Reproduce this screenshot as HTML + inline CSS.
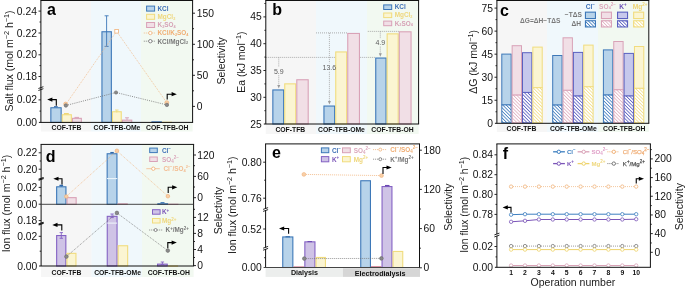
<!DOCTYPE html>
<html><head><meta charset="utf-8"><style>
html,body{margin:0;padding:0;background:#fff;}
body{width:685px;height:288px;overflow:hidden;}
svg{display:block;will-change:transform;font-family:"Liberation Sans", sans-serif;}
</style></head><body>
<svg width="685" height="288" viewBox="0 0 685 288">
<rect x="40.9" y="0.5" width="50.1" height="131" fill="#f6f6f6" stroke="none" stroke-width="1" />
<rect x="91" y="0.5" width="50" height="131" fill="#f0f8fc" stroke="none" stroke-width="1" />
<rect x="141" y="0.5" width="51.6" height="131" fill="#f2f9f1" stroke="none" stroke-width="1" />
<rect x="50.85" y="107.75" width="10.3" height="14.65" fill="#b7d3ea" stroke="#3d78b8" stroke-width="1.1" />
<rect x="62.25" y="114.75" width="9.1" height="7.65" fill="#fbf5d2" stroke="#f1dc7e" stroke-width="1.1" />
<rect x="72.45" y="118.35" width="8.9" height="4.05" fill="#f1dfe6" stroke="#d9a2b7" stroke-width="1.1" />
<line x1="54" y1="106.7" x2="57.7" y2="106.7" stroke="#3a70b0" stroke-width="1.2" />
<line x1="64" y1="113.7" x2="68.8" y2="113.7" stroke="#eed46a" stroke-width="1.2" />
<line x1="74.5" y1="117.4" x2="79" y2="117.4" stroke="#d9a2b7" stroke-width="1" />
<line x1="106.6" y1="15.8" x2="106.6" y2="46.4" stroke="#3d78b8" stroke-width="0.9" />
<line x1="104.6" y1="15.8" x2="108.6" y2="15.8" stroke="#3d78b8" stroke-width="0.9" />
<line x1="104.6" y1="46.4" x2="108.6" y2="46.4" stroke="#3d78b8" stroke-width="0.9" />
<rect x="101.95" y="31.75" width="9.4" height="90.65" fill="#b7d3ea" stroke="#3d78b8" stroke-width="1.1" />
<line x1="106.6" y1="31.2" x2="106.6" y2="46.4" stroke="#3d78b8" stroke-width="0.9" />
<line x1="104.6" y1="46.4" x2="108.6" y2="46.4" stroke="#3d78b8" stroke-width="0.9" />
<rect x="112.45" y="111.75" width="8.8" height="10.65" fill="#fbf5d2" stroke="#f1dc7e" stroke-width="1.1" />
<line x1="116.8" y1="110" x2="116.8" y2="112.5" stroke="#f1dc7e" stroke-width="0.9" />
<line x1="115" y1="110" x2="118.6" y2="110" stroke="#f1dc7e" stroke-width="0.9" />
<rect x="122.35" y="120.15" width="9.4" height="2.25" fill="#f1dfe6" stroke="#d9a2b7" stroke-width="1.1" />
<line x1="127" y1="117.8" x2="127" y2="120" stroke="#d9a2b7" stroke-width="0.9" />
<line x1="125" y1="117.8" x2="129" y2="117.8" stroke="#d9a2b7" stroke-width="0.9" />
<rect x="151.95" y="121.85" width="9.4" height="0.55" fill="#b7d3ea" stroke="#3d78b8" stroke-width="1.1" />
<rect x="162.45" y="122.25" width="9" height="0.2" fill="#fbf5d2" stroke="#f1dc7e" stroke-width="1.1" />
<polyline points="65.8,104.4 116.6,31.3 166.7,102.6" fill="none" stroke="#f0b27a" stroke-width="0.7" stroke-dasharray="1,1"/>
<polyline points="65.9,105.5 116,92.5 166.9,104.9" fill="none" stroke="#6e6e6e" stroke-width="0.8" stroke-dasharray="1,1.2"/>
<circle cx="65.6" cy="104" r="1.9" fill="#f8cfa8" stroke="#f0b27a" stroke-width="0.7"/>
<circle cx="65.9" cy="105.5" r="1.7" fill="#8a8a8a" stroke="#6e6e6e" stroke-width="0.7"/>
<rect x="114.8" y="29.5" width="3.6" height="3.6" fill="#fff" stroke="#f0b27a" stroke-width="0.8" />
<circle cx="116" cy="92.5" r="1.6" fill="#8a8a8a" stroke="#6e6e6e" stroke-width="0.7"/>
<circle cx="166.8" cy="102.6" r="1.9" fill="#f8cfa8" stroke="#f0b27a" stroke-width="0.7"/>
<circle cx="166.9" cy="104.9" r="1.7" fill="#8a8a8a" stroke="#6e6e6e" stroke-width="0.7"/>
<polyline points="56.3,105.7 56.3,99.6 51.4,99.6" fill="none" stroke="#000" stroke-width="1.1"/>
<polygon points="47.2,99.6 52.4,97.5 52.4,101.7" fill="#000"/>
<polyline points="167.2,99.5 167.2,94.2 172.6,94.2" fill="none" stroke="#000" stroke-width="1.1"/>
<polygon points="176.8,94.2 171.6,92.1 171.6,96.3" fill="#000"/>
<rect x="40.4" y="0" width="152.7" height="1" fill="#111" stroke="none" stroke-width="1" />
<line x1="40.9" y1="0.5" x2="40.9" y2="122.4" stroke="#111" stroke-width="1" />
<line x1="192.6" y1="0.5" x2="192.6" y2="122.4" stroke="#111" stroke-width="1" />
<line x1="38.9" y1="122.4" x2="193.1" y2="122.4" stroke="#111" stroke-width="1" />
<line x1="38.5" y1="11.1" x2="40.9" y2="11.1" stroke="#111" stroke-width="0.9" />
<line x1="38.5" y1="33" x2="40.9" y2="33" stroke="#111" stroke-width="0.9" />
<line x1="38.5" y1="54.8" x2="40.9" y2="54.8" stroke="#111" stroke-width="0.9" />
<line x1="38.5" y1="76.5" x2="40.9" y2="76.5" stroke="#111" stroke-width="0.9" />
<line x1="38.5" y1="99.9" x2="40.9" y2="99.9" stroke="#111" stroke-width="0.9" />
<line x1="39.5" y1="22" x2="40.9" y2="22" stroke="#111" stroke-width="0.9" />
<line x1="39.5" y1="43.9" x2="40.9" y2="43.9" stroke="#111" stroke-width="0.9" />
<line x1="39.5" y1="65.6" x2="40.9" y2="65.6" stroke="#111" stroke-width="0.9" />
<line x1="39.5" y1="111.1" x2="40.9" y2="111.1" stroke="#111" stroke-width="0.9" />
<line x1="38.4" y1="88.5" x2="43.4" y2="86.7" stroke="#111" stroke-width="0.9" />
<line x1="38.4" y1="90.5" x2="43.4" y2="88.7" stroke="#111" stroke-width="0.9" />
<text x="36.9" y="14.65" font-size="10.3" font-weight="normal" fill="#111" text-anchor="end" >0.24</text>
<text x="36.9" y="36.55" font-size="10.3" font-weight="normal" fill="#111" text-anchor="end" >0.22</text>
<text x="36.9" y="58.35" font-size="10.3" font-weight="normal" fill="#111" text-anchor="end" >0.20</text>
<text x="36.9" y="80.05" font-size="10.3" font-weight="normal" fill="#111" text-anchor="end" >0.18</text>
<text x="36.9" y="103.45" font-size="10.3" font-weight="normal" fill="#111" text-anchor="end" >0.02</text>
<text x="36.9" y="125.75" font-size="10.3" font-weight="normal" fill="#111" text-anchor="end" >0.00</text>
<line x1="192.6" y1="13.2" x2="195" y2="13.2" stroke="#111" stroke-width="0.9" />
<line x1="192.6" y1="44.3" x2="195" y2="44.3" stroke="#111" stroke-width="0.9" />
<line x1="192.6" y1="75.3" x2="195" y2="75.3" stroke="#111" stroke-width="0.9" />
<line x1="192.6" y1="106.4" x2="195" y2="106.4" stroke="#111" stroke-width="0.9" />
<line x1="192.6" y1="28.7" x2="194" y2="28.7" stroke="#111" stroke-width="0.9" />
<line x1="192.6" y1="59.8" x2="194" y2="59.8" stroke="#111" stroke-width="0.9" />
<line x1="192.6" y1="90.8" x2="194" y2="90.8" stroke="#111" stroke-width="0.9" />
<text x="196.8" y="16.75" font-size="10.3" font-weight="normal" fill="#111" text-anchor="start" >150</text>
<text x="196.8" y="47.85" font-size="10.3" font-weight="normal" fill="#111" text-anchor="start" >100</text>
<text x="196.8" y="78.85" font-size="10.3" font-weight="normal" fill="#111" text-anchor="start" >50</text>
<text x="196.8" y="109.95" font-size="10.3" font-weight="normal" fill="#111" text-anchor="start" >0</text>
<text x="47" y="15.3" font-size="16" font-weight="bold" fill="#000" text-anchor="start" >a</text>
<text x="66.5" y="129.9" font-size="6.8" font-weight="bold" fill="#111" text-anchor="middle" >COF-TFB</text>
<text x="117" y="129.9" font-size="6.8" font-weight="bold" fill="#111" text-anchor="middle" >COF-TFB-OMe</text>
<text x="167.2" y="129.9" font-size="6.8" font-weight="bold" fill="#111" text-anchor="middle" >COF-TFB-OH</text>
<text x="12.6" y="61" font-size="10.5" font-weight="normal" fill="#1a1a1a" text-anchor="middle" transform="rotate(-90 12.6 61)" >Salt flux (mol m<tspan baseline-shift="super" font-size="7.2">−2</tspan> h<tspan baseline-shift="super" font-size="7.2">−1</tspan>)</text>
<text x="224.5" y="60.75" font-size="10.5" font-weight="normal" fill="#1a1a1a" text-anchor="middle" transform="rotate(-90 224.5 60.75)" >Selectivity</text>
<rect x="146.6" y="6.1" width="8" height="5" fill="#b7d3ea" stroke="#3d78b8" stroke-width="1" />
<text x="157.5" y="10.6" font-size="6.4" font-weight="bold" fill="#3d6fb6" text-anchor="start" >KCl</text>
<rect x="146.6" y="14.3" width="8" height="5" fill="#fbf5d2" stroke="#f1dc7e" stroke-width="1" />
<text x="157.5" y="18.8" font-size="6.4" font-weight="bold" fill="#efd77c" text-anchor="start" >MgCl<tspan font-size="3.8" dy="0.8">2</tspan></text>
<rect x="146.6" y="22.5" width="8" height="5" fill="#f1dfe6" stroke="#d9a2b7" stroke-width="1" />
<text x="157.5" y="27" font-size="6.4" font-weight="bold" fill="#d6a0b5" text-anchor="start" >K<tspan font-size="3.8" dy="0.8">2</tspan><tspan dy="-0.8">SO</tspan><tspan font-size="3.8" dy="0.8">4</tspan></text>
<line x1="143.8" y1="33" x2="155.3" y2="33" stroke="#f0b27a" stroke-width="0.8" stroke-dasharray="1,1" />
<circle cx="150.3" cy="33" r="1.7" fill="#fff" stroke="#f0b27a" stroke-width="0.8"/>
<text x="157.5" y="35.3" font-size="6.4" font-weight="bold" fill="#f0ad72" text-anchor="start" >KCl/K<tspan font-size="3.8" dy="0.8">2</tspan><tspan dy="-0.8">SO</tspan><tspan font-size="3.8" dy="0.8">4</tspan></text>
<line x1="143.8" y1="41.2" x2="155.3" y2="41.2" stroke="#6e6e6e" stroke-width="0.8" stroke-dasharray="1,1" />
<circle cx="150.3" cy="41.2" r="1.7" fill="#fff" stroke="#6e6e6e" stroke-width="0.8"/>
<text x="157.5" y="43.5" font-size="6.4" font-weight="bold" fill="#777" text-anchor="start" >KCl/MgCl<tspan font-size="3.8" dy="0.8">2</tspan></text>
<rect x="265.8" y="0.5" width="50.2" height="133.5" fill="#f6f6f6" stroke="none" stroke-width="1" />
<rect x="316" y="0.5" width="51" height="133.5" fill="#f0f8fc" stroke="none" stroke-width="1" />
<rect x="367" y="0.5" width="51.6" height="133.5" fill="#f2f9f1" stroke="none" stroke-width="1" />
<line x1="265.8" y1="57.4" x2="375.5" y2="57.4" stroke="#9a9a9a" stroke-width="0.8" stroke-dasharray="1,1" />
<line x1="316" y1="32.9" x2="347.5" y2="32.9" stroke="#9a9a9a" stroke-width="0.8" stroke-dasharray="1,1" />
<line x1="367.8" y1="31.4" x2="399" y2="31.4" stroke="#9a9a9a" stroke-width="0.8" stroke-dasharray="1,1" />
<rect x="272.85" y="89.95" width="10.8" height="34.05" fill="#b7d3ea" stroke="#3d78b8" stroke-width="1.1" />
<rect x="284.75" y="83.85" width="10.95" height="40.15" fill="#fbf5d2" stroke="#f1dc7e" stroke-width="1.1" />
<rect x="296.8" y="79.75" width="11.4" height="44.25" fill="#f1dfe6" stroke="#d9a2b7" stroke-width="1.1" />
<rect x="323.95" y="106.05" width="10.7" height="17.95" fill="#b7d3ea" stroke="#3d78b8" stroke-width="1.1" />
<rect x="335.75" y="51.95" width="10.9" height="72.05" fill="#fbf5d2" stroke="#f1dc7e" stroke-width="1.1" />
<rect x="347.75" y="33.45" width="11.7" height="90.55" fill="#f1dfe6" stroke="#d9a2b7" stroke-width="1.1" />
<rect x="375.75" y="58.05" width="10.3" height="65.95" fill="#b7d3ea" stroke="#3d78b8" stroke-width="1.1" />
<rect x="387.15" y="33.85" width="11.05" height="90.15" fill="#fbf5d2" stroke="#f1dc7e" stroke-width="1.1" />
<rect x="399.3" y="31.8" width="11.75" height="92.2" fill="#f1dfe6" stroke="#d9a2b7" stroke-width="1.1" />
<line x1="278.75" y1="57.4" x2="278.75" y2="66.8" stroke="#9a9a9a" stroke-width="0.8" stroke-dasharray="1,1" />
<line x1="278.75" y1="75.3" x2="278.75" y2="85.6" stroke="#9a9a9a" stroke-width="0.8" stroke-dasharray="1,1" />
<polygon points="278.75,88.6 277.25,85.1 280.25,85.1" fill="#9a9a9a"/>
<text x="278.75" y="73.8" font-size="7" font-weight="normal" fill="#5c5c5c" text-anchor="middle" >5.9</text>
<line x1="329.4" y1="32.9" x2="329.4" y2="63.3" stroke="#9a9a9a" stroke-width="0.8" stroke-dasharray="1,1" />
<line x1="329.4" y1="71.8" x2="329.4" y2="101.6" stroke="#9a9a9a" stroke-width="0.8" stroke-dasharray="1,1" />
<polygon points="329.4,104.6 327.9,101.1 330.9,101.1" fill="#9a9a9a"/>
<text x="329.4" y="70.3" font-size="7" font-weight="normal" fill="#5c5c5c" text-anchor="middle" >13.6</text>
<line x1="380.3" y1="31.4" x2="380.3" y2="38.1" stroke="#9a9a9a" stroke-width="0.8" stroke-dasharray="1,1" />
<line x1="380.3" y1="46.6" x2="380.3" y2="53.8" stroke="#9a9a9a" stroke-width="0.8" stroke-dasharray="1,1" />
<polygon points="380.3,56.8 378.8,53.3 381.8,53.3" fill="#9a9a9a"/>
<text x="380.3" y="45.1" font-size="7" font-weight="normal" fill="#5c5c5c" text-anchor="middle" >4.9</text>
<rect x="265.3" y="0" width="153.8" height="1" fill="#111" stroke="none" stroke-width="1" />
<line x1="265.8" y1="0.5" x2="265.8" y2="124" stroke="#111" stroke-width="1" />
<line x1="418.6" y1="0.5" x2="418.6" y2="124" stroke="#111" stroke-width="1" />
<line x1="263.8" y1="124" x2="419.1" y2="124" stroke="#111" stroke-width="1" />
<line x1="263.4" y1="16.9" x2="265.8" y2="16.9" stroke="#111" stroke-width="0.9" />
<line x1="263.4" y1="43.7" x2="265.8" y2="43.7" stroke="#111" stroke-width="0.9" />
<line x1="263.4" y1="70.5" x2="265.8" y2="70.5" stroke="#111" stroke-width="0.9" />
<line x1="263.4" y1="97.3" x2="265.8" y2="97.3" stroke="#111" stroke-width="0.9" />
<line x1="264.4" y1="3.5" x2="265.8" y2="3.5" stroke="#111" stroke-width="0.9" />
<line x1="264.4" y1="30.3" x2="265.8" y2="30.3" stroke="#111" stroke-width="0.9" />
<line x1="264.4" y1="57.1" x2="265.8" y2="57.1" stroke="#111" stroke-width="0.9" />
<line x1="264.4" y1="83.9" x2="265.8" y2="83.9" stroke="#111" stroke-width="0.9" />
<line x1="264.4" y1="110.7" x2="265.8" y2="110.7" stroke="#111" stroke-width="0.9" />
<text x="261.8" y="20.45" font-size="10.3" font-weight="normal" fill="#111" text-anchor="end" >45</text>
<text x="261.8" y="47.25" font-size="10.3" font-weight="normal" fill="#111" text-anchor="end" >40</text>
<text x="261.8" y="74.05" font-size="10.3" font-weight="normal" fill="#111" text-anchor="end" >35</text>
<text x="261.8" y="100.85" font-size="10.3" font-weight="normal" fill="#111" text-anchor="end" >30</text>
<text x="261.8" y="127.55" font-size="10.3" font-weight="normal" fill="#111" text-anchor="end" >25</text>
<text x="272.2" y="15.3" font-size="16" font-weight="bold" fill="#000" text-anchor="start" >b</text>
<text x="290.3" y="132" font-size="6.8" font-weight="bold" fill="#111" text-anchor="middle" >COF-TFB</text>
<text x="341.5" y="132" font-size="6.8" font-weight="bold" fill="#111" text-anchor="middle" >COF-TFB-OMe</text>
<text x="392.5" y="132" font-size="6.8" font-weight="bold" fill="#111" text-anchor="middle" >COF-TFB-OH</text>
<text x="245.3" y="62.2" font-size="10.5" font-weight="normal" fill="#1a1a1a" text-anchor="middle" transform="rotate(-90 245.3 62.2)" >Ea (kJ mol<tspan baseline-shift="super" font-size="7.2">−1</tspan>)</text>
<rect x="383.7" y="4.9" width="8" height="4.6" fill="#b7d3ea" stroke="#3d78b8" stroke-width="1" />
<text x="394.7" y="9.3" font-size="6.4" font-weight="bold" fill="#3d6fb6" text-anchor="start" >KCl</text>
<rect x="383.7" y="13" width="8" height="4.6" fill="#fbf5d2" stroke="#f1dc7e" stroke-width="1" />
<text x="394.7" y="17.4" font-size="6.4" font-weight="bold" fill="#efd77c" text-anchor="start" >MgCl<tspan font-size="3.8" dy="0.8">2</tspan></text>
<rect x="383.7" y="21.1" width="8" height="4.6" fill="#f1dfe6" stroke="#d9a2b7" stroke-width="1" />
<text x="394.7" y="25.5" font-size="6.4" font-weight="bold" fill="#d6a0b5" text-anchor="start" >K<tspan font-size="3.8" dy="0.8">2</tspan><tspan dy="-0.8">SO</tspan><tspan font-size="3.8" dy="0.8">4</tspan></text>
<rect x="496.9" y="0.5" width="50.1" height="131.5" fill="#f6f6f6" stroke="none" stroke-width="1" />
<rect x="547" y="0.5" width="51" height="131.5" fill="#f0f8fc" stroke="none" stroke-width="1" />
<rect x="598" y="0.5" width="50.8" height="131.5" fill="#f2f9f1" stroke="none" stroke-width="1" />
<defs><pattern id="hcl" patternUnits="userSpaceOnUse" width="2.4" height="2.4" patternTransform="rotate(-45)"><rect width="2.4" height="2.4" fill="#fff"/><rect width="0.85" height="2.4" fill="#4680c0"/></pattern></defs>
<defs><pattern id="hso" patternUnits="userSpaceOnUse" width="2.4" height="2.4" patternTransform="rotate(-45)"><rect width="2.4" height="2.4" fill="#fff"/><rect width="0.85" height="2.4" fill="#e2b3c4"/></pattern></defs>
<defs><pattern id="hk" patternUnits="userSpaceOnUse" width="2.4" height="2.4" patternTransform="rotate(-45)"><rect width="2.4" height="2.4" fill="#fff"/><rect width="0.85" height="2.4" fill="#6065c4"/></pattern></defs>
<defs><pattern id="hmg" patternUnits="userSpaceOnUse" width="2.4" height="2.4" patternTransform="rotate(-45)"><rect width="2.4" height="2.4" fill="#fff"/><rect width="0.85" height="2.4" fill="#f3e08f"/></pattern></defs>
<rect x="501.8" y="54.1" width="9.35" height="50.9" fill="#b7d3ea" stroke="#3d78b8" stroke-width="1" />
<rect x="501.8" y="104.9" width="9.35" height="17.9" fill="url(#hcl)" stroke="#3d78b8" stroke-width="1" />
<rect x="512.15" y="45.7" width="9.35" height="49.5" fill="#f1dfe6" stroke="#d9a2b7" stroke-width="1" />
<rect x="512.15" y="95.1" width="9.35" height="27.7" fill="url(#hso)" stroke="#d9a2b7" stroke-width="1" />
<rect x="522.5" y="52.7" width="9.35" height="39.8" fill="#c6c8ec" stroke="#5a60c0" stroke-width="1" />
<rect x="522.5" y="92.4" width="9.35" height="30.4" fill="url(#hk)" stroke="#5a60c0" stroke-width="1" />
<rect x="532.85" y="47.1" width="9.35" height="40.7" fill="#fbf5d2" stroke="#f1dc7e" stroke-width="1" />
<rect x="532.85" y="87.7" width="9.35" height="35.1" fill="url(#hmg)" stroke="#f1dc7e" stroke-width="1" />
<rect x="552.7" y="55.5" width="9.35" height="49.65" fill="#b7d3ea" stroke="#3d78b8" stroke-width="1" />
<rect x="552.7" y="105.05" width="9.35" height="17.75" fill="url(#hcl)" stroke="#3d78b8" stroke-width="1" />
<rect x="563.05" y="37.8" width="9.35" height="52.6" fill="#f1dfe6" stroke="#d9a2b7" stroke-width="1" />
<rect x="563.05" y="90.3" width="9.35" height="32.5" fill="url(#hso)" stroke="#d9a2b7" stroke-width="1" />
<rect x="573.4" y="52.4" width="9.35" height="43.7" fill="#c6c8ec" stroke="#5a60c0" stroke-width="1" />
<rect x="573.4" y="96" width="9.35" height="26.8" fill="url(#hk)" stroke="#5a60c0" stroke-width="1" />
<rect x="583.75" y="45.1" width="9.35" height="41.8" fill="#fbf5d2" stroke="#f1dc7e" stroke-width="1" />
<rect x="583.75" y="86.8" width="9.35" height="36" fill="url(#hmg)" stroke="#f1dc7e" stroke-width="1" />
<rect x="603.4" y="49.9" width="9.35" height="45.2" fill="#b7d3ea" stroke="#3d78b8" stroke-width="1" />
<rect x="603.4" y="95" width="9.35" height="27.8" fill="url(#hcl)" stroke="#3d78b8" stroke-width="1" />
<rect x="613.75" y="41.5" width="9.35" height="48.4" fill="#f1dfe6" stroke="#d9a2b7" stroke-width="1" />
<rect x="613.75" y="89.8" width="9.35" height="33" fill="url(#hso)" stroke="#d9a2b7" stroke-width="1" />
<rect x="624.1" y="53.4" width="9.35" height="42.7" fill="#c6c8ec" stroke="#5a60c0" stroke-width="1" />
<rect x="624.1" y="96" width="9.35" height="26.8" fill="url(#hk)" stroke="#5a60c0" stroke-width="1" />
<rect x="634.45" y="46.5" width="9.35" height="41.9" fill="#fbf5d2" stroke="#f1dc7e" stroke-width="1" />
<rect x="634.45" y="88.3" width="9.35" height="34.5" fill="url(#hmg)" stroke="#f1dc7e" stroke-width="1" />
<rect x="496.4" y="0" width="152.9" height="1" fill="#111" stroke="none" stroke-width="1" />
<line x1="496.9" y1="0.5" x2="496.9" y2="123.3" stroke="#111" stroke-width="1" />
<line x1="648.8" y1="0.5" x2="648.8" y2="123.3" stroke="#111" stroke-width="1" />
<line x1="494.9" y1="123.3" x2="649.3" y2="123.3" stroke="#111" stroke-width="1" />
<line x1="494.5" y1="8.1" x2="496.9" y2="8.1" stroke="#111" stroke-width="0.9" />
<line x1="494.5" y1="31.14" x2="496.9" y2="31.14" stroke="#111" stroke-width="0.9" />
<line x1="494.5" y1="54.18" x2="496.9" y2="54.18" stroke="#111" stroke-width="0.9" />
<line x1="494.5" y1="77.22" x2="496.9" y2="77.22" stroke="#111" stroke-width="0.9" />
<line x1="494.5" y1="100.26" x2="496.9" y2="100.26" stroke="#111" stroke-width="0.9" />
<line x1="495.5" y1="19.62" x2="496.9" y2="19.62" stroke="#111" stroke-width="0.9" />
<line x1="495.5" y1="42.66" x2="496.9" y2="42.66" stroke="#111" stroke-width="0.9" />
<line x1="495.5" y1="65.7" x2="496.9" y2="65.7" stroke="#111" stroke-width="0.9" />
<line x1="495.5" y1="88.74" x2="496.9" y2="88.74" stroke="#111" stroke-width="0.9" />
<line x1="495.5" y1="111.78" x2="496.9" y2="111.78" stroke="#111" stroke-width="0.9" />
<text x="492.9" y="11.65" font-size="10.3" font-weight="normal" fill="#111" text-anchor="end" >75</text>
<text x="492.9" y="34.69" font-size="10.3" font-weight="normal" fill="#111" text-anchor="end" >60</text>
<text x="492.9" y="57.73" font-size="10.3" font-weight="normal" fill="#111" text-anchor="end" >45</text>
<text x="492.9" y="80.77" font-size="10.3" font-weight="normal" fill="#111" text-anchor="end" >30</text>
<text x="492.9" y="103.81" font-size="10.3" font-weight="normal" fill="#111" text-anchor="end" >15</text>
<text x="492.9" y="126.85" font-size="10.3" font-weight="normal" fill="#111" text-anchor="end" >0</text>
<text x="500.1" y="16" font-size="16" font-weight="bold" fill="#000" text-anchor="start" >c</text>
<text x="521.5" y="131" font-size="6.8" font-weight="bold" fill="#111" text-anchor="middle" >COF-TFB</text>
<text x="573.3" y="131" font-size="6.8" font-weight="bold" fill="#111" text-anchor="middle" >COF-TFB-OMe</text>
<text x="624.2" y="131" font-size="6.8" font-weight="bold" fill="#111" text-anchor="middle" >COF-TFB-OH</text>
<text x="477" y="61.9" font-size="10.5" font-weight="normal" fill="#1a1a1a" text-anchor="middle" transform="rotate(-90 477 61.9)" >ΔG (kJ mol<tspan baseline-shift="super" font-size="7.2">−1</tspan>)</text>
<text x="540.2" y="23" font-size="6.6" font-weight="bold" fill="#7a7a7a" text-anchor="middle" >ΔG=ΔH−TΔS</text>
<text x="581.8" y="17.4" font-size="6.6" font-weight="bold" fill="#777" text-anchor="end" >−TΔS</text>
<text x="581" y="26" font-size="6.6" font-weight="bold" fill="#777" text-anchor="end" >ΔH</text>
<rect x="585.45" y="12.15" width="10" height="6.4" fill="#b7d3ea" stroke="#3d78b8" stroke-width="1.1" />
<rect x="585.45" y="20.75" width="10" height="6.2" fill="url(#hcl)" stroke="#3d78b8" stroke-width="1.1" />
<text x="590.3" y="8.6" font-size="6.6" font-weight="bold" fill="#3d6fb6" text-anchor="middle" >Cl<tspan font-size="4.5" dy="-2.5">−</tspan></text>
<rect x="601.45" y="12.15" width="10" height="6.4" fill="#f1dfe6" stroke="#d9a2b7" stroke-width="1.1" />
<rect x="601.45" y="20.75" width="10" height="6.2" fill="url(#hso)" stroke="#d9a2b7" stroke-width="1.1" />
<text x="607.5" y="8.6" font-size="6.6" font-weight="bold" fill="#dba6bb" text-anchor="middle" >SO<tspan font-size="3.8" dy="0.8">4</tspan><tspan font-size="4.5" dy="-3.5">2−</tspan></text>
<rect x="617.55" y="12.15" width="10" height="6.4" fill="#c6c8ec" stroke="#5a60c0" stroke-width="1.1" />
<rect x="617.55" y="20.75" width="10" height="6.2" fill="url(#hk)" stroke="#5a60c0" stroke-width="1.1" />
<text x="623" y="8.6" font-size="6.6" font-weight="bold" fill="#6a4fb5" text-anchor="middle" >K<tspan font-size="4.5" dy="-2.5">+</tspan></text>
<rect x="633.65" y="12.15" width="10" height="6.4" fill="#fbf5d2" stroke="#f1dc7e" stroke-width="1.1" />
<rect x="633.65" y="20.75" width="10" height="6.2" fill="url(#hmg)" stroke="#f1dc7e" stroke-width="1.1" />
<text x="640" y="8.6" font-size="6.6" font-weight="bold" fill="#eed471" text-anchor="middle" >Mg<tspan font-size="4.5" dy="-2.5">2+</tspan></text>
<rect x="41.1" y="144.4" width="50.4" height="132.6" fill="#f6f6f6" stroke="none" stroke-width="1" />
<rect x="91.5" y="144.4" width="50.5" height="132.6" fill="#f0f8fc" stroke="none" stroke-width="1" />
<rect x="142" y="144.4" width="51.6" height="132.6" fill="#f2f9f1" stroke="none" stroke-width="1" />
<line x1="61.3" y1="185.3" x2="61.3" y2="187.2" stroke="#3d78b8" stroke-width="0.9" />
<line x1="59.7" y1="185.3" x2="62.9" y2="185.3" stroke="#3d78b8" stroke-width="0.9" />
<line x1="59.7" y1="187.2" x2="62.9" y2="187.2" stroke="#3d78b8" stroke-width="0.9" />
<rect x="56.65" y="186.8" width="9.3" height="17.5" fill="#b7d3ea" stroke="#3d78b8" stroke-width="1.1" />
<line x1="59.5" y1="185.5" x2="63.1" y2="185.5" stroke="#2e67a8" stroke-width="1.3" />
<rect x="67.05" y="197.65" width="9.1" height="6.65" fill="#f1dfe6" stroke="#d9a2b7" stroke-width="1.1" />
<rect x="107.15" y="153.75" width="9.8" height="50.55" fill="#b7d3ea" stroke="#3d78b8" stroke-width="1.1" />
<line x1="110.3" y1="152.6" x2="113.8" y2="152.6" stroke="#2e67a8" stroke-width="1.3" />
<rect x="107" y="178.1" width="10.2" height="1" fill="#f0f8fc" stroke="none" stroke-width="1" />
<rect x="118.05" y="203.85" width="9.2" height="0.45" fill="#f1dfe6" stroke="#d9a2b7" stroke-width="1.1" />
<rect x="157.85" y="203.75" width="9.8" height="0.55" fill="#b7d3ea" stroke="#3d78b8" stroke-width="1.1" />
<line x1="160.5" y1="202.6" x2="164.5" y2="202.6" stroke="#3d78b8" stroke-width="1" />
<rect x="168.75" y="204.25" width="9.1" height="0.2" fill="#f1dfe6" stroke="#d9a2b7" stroke-width="1.1" />
<polyline points="66.3,196.5 116.9,150.8 167.9,196.2" fill="none" stroke="#f0b27a" stroke-width="0.7" stroke-dasharray="1,1"/>
<circle cx="66.3" cy="196.5" r="1.8" fill="#f8cfa8" stroke="#f0b27a" stroke-width="0.7"/>
<circle cx="116.9" cy="150.8" r="1.8" fill="#f8cfa8" stroke="#f0b27a" stroke-width="0.7"/>
<circle cx="167.9" cy="196.2" r="1.8" fill="#f8cfa8" stroke="#f0b27a" stroke-width="0.7"/>
<polyline points="62,184.6 62,178.75 57.5,178.75" fill="none" stroke="#000" stroke-width="1.1"/>
<polygon points="53.3,178.75 58.5,176.65 58.5,180.85" fill="#000"/>
<polyline points="168.2,193 168.2,187.3 173.1,187.3" fill="none" stroke="#000" stroke-width="1.1"/>
<polygon points="177.3,187.3 172.1,185.2 172.1,189.4" fill="#000"/>
<rect x="56.65" y="235.55" width="9.2" height="30.45" fill="#cfc3e6" stroke="#8462c4" stroke-width="1.1" />
<line x1="61.3" y1="232.6" x2="61.3" y2="238.3" stroke="#8462c4" stroke-width="0.9" />
<line x1="59.6" y1="232.6" x2="63" y2="232.6" stroke="#8462c4" stroke-width="0.9" />
<line x1="59.6" y1="238.3" x2="63" y2="238.3" stroke="#8462c4" stroke-width="0.9" />
<rect x="66.95" y="253.35" width="9" height="12.65" fill="#fbf5d2" stroke="#f1dc7e" stroke-width="1.1" />
<rect x="107.25" y="216.35" width="9.8" height="49.65" fill="#cfc3e6" stroke="#8462c4" stroke-width="1.1" />
<line x1="112.1" y1="214" x2="112.1" y2="217.6" stroke="#8462c4" stroke-width="0.9" />
<line x1="110.4" y1="214" x2="113.8" y2="214" stroke="#8462c4" stroke-width="0.9" />
<line x1="110.4" y1="217.6" x2="113.8" y2="217.6" stroke="#8462c4" stroke-width="0.9" />
<rect x="107.2" y="222.6" width="9.9" height="1" fill="#f0f8fc" stroke="none" stroke-width="1" />
<rect x="118.15" y="245.75" width="9.5" height="20.25" fill="#fbf5d2" stroke="#f1dc7e" stroke-width="1.1" />
<rect x="157.55" y="264.15" width="9.7" height="1.85" fill="#cfc3e6" stroke="#8462c4" stroke-width="1.1" />
<line x1="162.4" y1="262" x2="162.4" y2="264.5" stroke="#8462c4" stroke-width="0.9" />
<line x1="160.7" y1="262" x2="164.1" y2="262" stroke="#8462c4" stroke-width="0.9" />
<line x1="160.7" y1="264.5" x2="164.1" y2="264.5" stroke="#8462c4" stroke-width="0.9" />
<rect x="168.35" y="265.95" width="9.1" height="0.2" fill="#fbf5d2" stroke="#f1dc7e" stroke-width="1.1" />
<polyline points="66.4,256.6 116.9,212.9 167.8,250.6" fill="none" stroke="#6e6e6e" stroke-width="0.7" stroke-dasharray="1,1"/>
<circle cx="66.4" cy="256.6" r="1.8" fill="#8a8a8a" stroke="#6e6e6e" stroke-width="0.7"/>
<circle cx="116.9" cy="212.9" r="1.8" fill="#8a8a8a" stroke="#6e6e6e" stroke-width="0.7"/>
<circle cx="167.8" cy="250.6" r="1.8" fill="#8a8a8a" stroke="#6e6e6e" stroke-width="0.7"/>
<polyline points="61.8,230.6 61.8,224.9 56.5,224.9" fill="none" stroke="#000" stroke-width="1.1"/>
<polygon points="52.3,224.9 57.5,222.8 57.5,227" fill="#000"/>
<polyline points="167.8,248.2 167.8,242.6 172.6,242.6" fill="none" stroke="#000" stroke-width="1.1"/>
<polygon points="176.8,242.6 171.6,240.5 171.6,244.7" fill="#000"/>
<rect x="40.6" y="143.9" width="153.5" height="1" fill="#111" stroke="none" stroke-width="1" />
<line x1="41.1" y1="144.4" x2="41.1" y2="266" stroke="#111" stroke-width="1" />
<line x1="193.6" y1="144.4" x2="193.6" y2="266" stroke="#111" stroke-width="1" />
<line x1="41.1" y1="204.3" x2="193.6" y2="204.3" stroke="#333" stroke-width="0.9" />
<line x1="39.1" y1="266" x2="194.1" y2="266" stroke="#111" stroke-width="1" />
<line x1="38.7" y1="152.8" x2="41.1" y2="152.8" stroke="#111" stroke-width="0.9" />
<line x1="38.7" y1="169.2" x2="41.1" y2="169.2" stroke="#111" stroke-width="0.9" />
<line x1="38.7" y1="187.4" x2="41.1" y2="187.4" stroke="#111" stroke-width="0.9" />
<line x1="38.7" y1="204.2" x2="41.1" y2="204.2" stroke="#111" stroke-width="0.9" />
<line x1="38.7" y1="220.6" x2="41.1" y2="220.6" stroke="#111" stroke-width="0.9" />
<line x1="38.7" y1="236.3" x2="41.1" y2="236.3" stroke="#111" stroke-width="0.9" />
<line x1="39.7" y1="161" x2="41.1" y2="161" stroke="#111" stroke-width="0.9" />
<line x1="39.7" y1="195.8" x2="41.1" y2="195.8" stroke="#111" stroke-width="0.9" />
<line x1="39.7" y1="251.2" x2="41.1" y2="251.2" stroke="#111" stroke-width="0.9" />
<line x1="38.6" y1="179.35" x2="43.6" y2="177.55" stroke="#111" stroke-width="1.1" />
<line x1="38.6" y1="180.25" x2="43.6" y2="178.45" stroke="#111" stroke-width="1.1" />
<line x1="38.6" y1="224.05" x2="43.6" y2="222.25" stroke="#111" stroke-width="1.1" />
<line x1="38.6" y1="224.95" x2="43.6" y2="223.15" stroke="#111" stroke-width="1.1" />
<text x="37.3" y="156.35" font-size="10.3" font-weight="normal" fill="#111" text-anchor="end" >0.22</text>
<text x="37.3" y="172.75" font-size="10.3" font-weight="normal" fill="#111" text-anchor="end" >0.20</text>
<text x="37.3" y="190.95" font-size="10.3" font-weight="normal" fill="#111" text-anchor="end" >0.02</text>
<text x="37.3" y="207.75" font-size="10.3" font-weight="normal" fill="#111" text-anchor="end" >0.00</text>
<text x="37.3" y="224.15" font-size="10.3" font-weight="normal" fill="#111" text-anchor="end" >0.18</text>
<text x="37.3" y="239.85" font-size="10.3" font-weight="normal" fill="#111" text-anchor="end" >0.02</text>
<text x="37.3" y="269.55" font-size="10.3" font-weight="normal" fill="#111" text-anchor="end" >0.00</text>
<line x1="193.6" y1="155" x2="196" y2="155" stroke="#111" stroke-width="0.9" />
<line x1="193.6" y1="176.4" x2="196" y2="176.4" stroke="#111" stroke-width="0.9" />
<line x1="193.6" y1="197.7" x2="196" y2="197.7" stroke="#111" stroke-width="0.9" />
<line x1="193.6" y1="217.4" x2="196" y2="217.4" stroke="#111" stroke-width="0.9" />
<line x1="193.6" y1="233.4" x2="196" y2="233.4" stroke="#111" stroke-width="0.9" />
<line x1="193.6" y1="249.5" x2="196" y2="249.5" stroke="#111" stroke-width="0.9" />
<line x1="193.6" y1="265.6" x2="196" y2="265.6" stroke="#111" stroke-width="0.9" />
<line x1="193.6" y1="165.7" x2="195" y2="165.7" stroke="#111" stroke-width="0.9" />
<line x1="193.6" y1="187" x2="195" y2="187" stroke="#111" stroke-width="0.9" />
<line x1="193.6" y1="209.3" x2="195" y2="209.3" stroke="#111" stroke-width="0.9" />
<line x1="193.6" y1="225.4" x2="195" y2="225.4" stroke="#111" stroke-width="0.9" />
<line x1="193.6" y1="241.5" x2="195" y2="241.5" stroke="#111" stroke-width="0.9" />
<line x1="193.6" y1="257.5" x2="195" y2="257.5" stroke="#111" stroke-width="0.9" />
<text x="197.2" y="158.55" font-size="10.3" font-weight="normal" fill="#111" text-anchor="start" >120</text>
<text x="197.2" y="179.95" font-size="10.3" font-weight="normal" fill="#111" text-anchor="start" >60</text>
<text x="197.2" y="201.25" font-size="10.3" font-weight="normal" fill="#111" text-anchor="start" >0</text>
<text x="197.2" y="220.95" font-size="10.3" font-weight="normal" fill="#111" text-anchor="start" >12</text>
<text x="197.2" y="236.95" font-size="10.3" font-weight="normal" fill="#111" text-anchor="start" >8</text>
<text x="197.2" y="253.05" font-size="10.3" font-weight="normal" fill="#111" text-anchor="start" >4</text>
<text x="197.2" y="269.15" font-size="10.3" font-weight="normal" fill="#111" text-anchor="start" >0</text>
<text x="45.8" y="161.5" font-size="16" font-weight="bold" fill="#000" text-anchor="start" >d</text>
<text x="66.5" y="274.6" font-size="6.8" font-weight="bold" fill="#111" text-anchor="middle" >COF-TFB</text>
<text x="117.6" y="274.6" font-size="6.8" font-weight="bold" fill="#111" text-anchor="middle" >COF-TFB-OMe</text>
<text x="168.8" y="274.6" font-size="6.8" font-weight="bold" fill="#111" text-anchor="middle" >COF-TFB-OH</text>
<text x="9.9" y="203.6" font-size="10.5" font-weight="normal" fill="#1a1a1a" text-anchor="middle" transform="rotate(-90 9.9 203.6)" >Ion flux (mol m<tspan baseline-shift="super" font-size="7.2">−2</tspan> h<tspan baseline-shift="super" font-size="7.2">−1</tspan>)</text>
<text x="222" y="210.5" font-size="10.5" font-weight="normal" fill="#1a1a1a" text-anchor="middle" transform="rotate(-90 222 210.5)" >Selectivity</text>
<rect x="149.7" y="148.1" width="7.6" height="4.5" fill="#b7d3ea" stroke="#3d78b8" stroke-width="1" />
<text x="161.9" y="152.6" font-size="6.4" font-weight="bold" fill="#3d6fb6" text-anchor="start" >Cl<tspan font-size="4.5" dy="-2.8">−</tspan></text>
<rect x="149.7" y="157" width="7.6" height="4.5" fill="#f1dfe6" stroke="#d9a2b7" stroke-width="1" />
<text x="161.9" y="161.5" font-size="6.4" font-weight="bold" fill="#dba6bb" text-anchor="start" >SO<tspan font-size="4.5" dy="1.2">4</tspan><tspan font-size="4.5" dy="-4.2">2−</tspan></text>
<line x1="146.3" y1="168.7" x2="159.8" y2="168.7" stroke="#f4c198" stroke-width="0.9" />
<circle cx="153.3" cy="168.7" r="1.7" fill="#fff" stroke="#f0b27a" stroke-width="0.9"/>
<text x="163.4" y="171" font-size="6.4" font-weight="bold" fill="#f3bd92" text-anchor="start" >Cl<tspan font-size="4.5" dy="-2.8">−</tspan><tspan dy="2.8">/SO</tspan><tspan font-size="4.0" dy="1.2">4</tspan><tspan font-size="4.0" dy="-4.2">2−</tspan></text>
<rect x="152.5" y="209.7" width="7.6" height="4.5" fill="#cfc3e6" stroke="#8462c4" stroke-width="1" />
<text x="161.9" y="214.4" font-size="6.4" font-weight="bold" fill="#7b55b8" text-anchor="start" >K<tspan font-size="4.5" dy="-2.8">+</tspan></text>
<rect x="152.5" y="218.5" width="7.6" height="4.5" fill="#fbf5d2" stroke="#f1dc7e" stroke-width="1" />
<text x="161.9" y="223.4" font-size="6.4" font-weight="bold" fill="#efd77c" text-anchor="start" >Mg<tspan font-size="4.5" dy="-2.8">2+</tspan></text>
<line x1="149.2" y1="230" x2="162.4" y2="230" stroke="#6e6e6e" stroke-width="0.8" stroke-dasharray="1,1" />
<circle cx="155.6" cy="230" r="1.5" fill="#fff" stroke="#6e6e6e" stroke-width="0.8"/>
<text x="165.5" y="232.3" font-size="6.4" font-weight="bold" fill="#777" text-anchor="start" >K<tspan font-size="4.5" dy="-2.8">+</tspan><tspan dy="2.8">/Mg</tspan><tspan font-size="4.5" dy="-2.8">2+</tspan></text>
<rect x="265.6" y="268.2" width="77.3" height="8.7" fill="#eceeed" stroke="none" stroke-width="1" />
<rect x="342.9" y="268.2" width="77.1" height="8.7" fill="#d6d6d6" stroke="none" stroke-width="1" />
<rect x="282.75" y="236.95" width="10.1" height="30.55" fill="#b7d3ea" stroke="#3d78b8" stroke-width="1.1" />
<line x1="285.5" y1="236.8" x2="290" y2="236.8" stroke="#2e67a8" stroke-width="1" />
<rect x="293.95" y="266.95" width="9.8" height="0.55" fill="#f1dfe6" stroke="#d07a90" stroke-width="1.1" />
<rect x="304.85" y="241.85" width="10.1" height="25.65" fill="#cfc3e6" stroke="#8462c4" stroke-width="1.1" />
<line x1="307.5" y1="241.6" x2="312" y2="241.6" stroke="#6a48b0" stroke-width="1" />
<rect x="316.05" y="257.45" width="9.4" height="10.05" fill="#fbf5d2" stroke="#f1dc7e" stroke-width="1.1" />
<rect x="360.75" y="180.75" width="9.7" height="86.75" fill="#b7d3ea" stroke="#3d78b8" stroke-width="1.1" />
<rect x="371.55" y="266.75" width="9.4" height="0.75" fill="#f1dfe6" stroke="#d07a90" stroke-width="1.1" />
<rect x="382.05" y="186.55" width="9.9" height="80.95" fill="#cfc3e6" stroke="#8462c4" stroke-width="1.1" />
<line x1="385" y1="185.6" x2="389.5" y2="185.6" stroke="#6a48b0" stroke-width="1.3" />
<rect x="393.05" y="251.45" width="9.7" height="16.05" fill="#fbf5d2" stroke="#f1dc7e" stroke-width="1.1" />
<polyline points="303.9,174.4 381.5,175.6" fill="none" stroke="#f0b27a" stroke-width="0.9" stroke-dasharray="0.9,1.1"/>
<circle cx="303.9" cy="174.4" r="1.9" fill="#f8cfa8" stroke="#f0b27a" stroke-width="0.6"/>
<circle cx="381.5" cy="175.6" r="1.9" fill="#f8cfa8" stroke="#f0b27a" stroke-width="0.6"/>
<polyline points="304.3,258.6 381.4,258.4" fill="none" stroke="#6e6e6e" stroke-width="0.8" stroke-dasharray="0.9,1.1"/>
<circle cx="304.3" cy="258.6" r="1.8" fill="#8a8a8a" stroke="#6e6e6e" stroke-width="0.7"/>
<circle cx="381.4" cy="258.4" r="1.8" fill="#8a8a8a" stroke="#6e6e6e" stroke-width="0.7"/>
<polyline points="288.6,233.8 288.6,228.5 283.2,228.5" fill="none" stroke="#000" stroke-width="1.1"/>
<polygon points="279,228.5 284.2,226.4 284.2,230.6" fill="#000"/>
<polyline points="383,174 383,167.5 387.5,167.5" fill="none" stroke="#000" stroke-width="1.1"/>
<polygon points="391.7,167.5 386.5,165.4 386.5,169.6" fill="#000"/>
<rect x="265.1" y="143.4" width="154.9" height="1" fill="#111" stroke="none" stroke-width="1" />
<line x1="265.6" y1="143.9" x2="265.6" y2="267.5" stroke="#111" stroke-width="1" />
<line x1="419.5" y1="143.9" x2="419.5" y2="267.5" stroke="#111" stroke-width="1" />
<line x1="263.6" y1="267.5" x2="420" y2="267.5" stroke="#444" stroke-width="1.1" />
<line x1="263.2" y1="162.2" x2="265.6" y2="162.2" stroke="#111" stroke-width="0.9" />
<line x1="263.2" y1="198.2" x2="265.6" y2="198.2" stroke="#111" stroke-width="0.9" />
<line x1="263.2" y1="229" x2="265.6" y2="229" stroke="#111" stroke-width="0.9" />
<line x1="264.2" y1="180.2" x2="265.6" y2="180.2" stroke="#111" stroke-width="0.9" />
<line x1="264.2" y1="257.7" x2="265.6" y2="257.7" stroke="#111" stroke-width="0.9" />
<rect x="264.6" y="208.7" width="2" height="1.6" fill="#fff" stroke="none" stroke-width="1" />
<line x1="263.1" y1="209.4" x2="268.1" y2="207.6" stroke="#111" stroke-width="0.9" />
<line x1="263.1" y1="211.4" x2="268.1" y2="209.6" stroke="#111" stroke-width="0.9" />
<rect x="264.6" y="247.5" width="2" height="1.6" fill="#fff" stroke="none" stroke-width="1" />
<line x1="263.1" y1="248.2" x2="268.1" y2="246.4" stroke="#111" stroke-width="0.9" />
<line x1="263.1" y1="250.2" x2="268.1" y2="248.4" stroke="#111" stroke-width="0.9" />
<text x="261.7" y="165.75" font-size="10.3" font-weight="normal" fill="#111" text-anchor="end" >0.80</text>
<text x="261.7" y="201.75" font-size="10.3" font-weight="normal" fill="#111" text-anchor="end" >0.76</text>
<text x="261.7" y="232.55" font-size="10.3" font-weight="normal" fill="#111" text-anchor="end" >0.52</text>
<text x="261.7" y="270.85" font-size="10.3" font-weight="normal" fill="#111" text-anchor="end" >0.00</text>
<line x1="419.5" y1="150.2" x2="421.9" y2="150.2" stroke="#111" stroke-width="0.9" />
<line x1="419.5" y1="189.4" x2="421.9" y2="189.4" stroke="#111" stroke-width="0.9" />
<line x1="419.5" y1="228.6" x2="421.9" y2="228.6" stroke="#111" stroke-width="0.9" />
<line x1="419.5" y1="267.8" x2="421.9" y2="267.8" stroke="#111" stroke-width="0.9" />
<line x1="419.5" y1="169.8" x2="420.9" y2="169.8" stroke="#111" stroke-width="0.9" />
<line x1="419.5" y1="209" x2="420.9" y2="209" stroke="#111" stroke-width="0.9" />
<line x1="419.5" y1="248.2" x2="420.9" y2="248.2" stroke="#111" stroke-width="0.9" />
<text x="423.5" y="153.75" font-size="10.3" font-weight="normal" fill="#111" text-anchor="start" >180</text>
<text x="423.5" y="192.95" font-size="10.3" font-weight="normal" fill="#111" text-anchor="start" >120</text>
<text x="423.5" y="232.15" font-size="10.3" font-weight="normal" fill="#111" text-anchor="start" >60</text>
<text x="423.5" y="271.35" font-size="10.3" font-weight="normal" fill="#111" text-anchor="start" >0</text>
<text x="271.9" y="158.3" font-size="16" font-weight="bold" fill="#000" text-anchor="start" >e</text>
<text x="304.5" y="275.2" font-size="7.2" font-weight="bold" fill="#111" text-anchor="middle" >Dialysis</text>
<text x="380.2" y="275.6" font-size="7.2" font-weight="bold" fill="#111" text-anchor="middle" >Electrodialysis</text>
<text x="236.5" y="205.2" font-size="10.5" font-weight="normal" fill="#1a1a1a" text-anchor="middle" transform="rotate(-90 236.5 205.2)" >Ion flux (mol m<tspan baseline-shift="super" font-size="7.2">−2</tspan> h<tspan baseline-shift="super" font-size="7.2">−1</tspan>)</text>
<text x="452.5" y="207.2" font-size="10.5" font-weight="normal" fill="#1a1a1a" text-anchor="middle" transform="rotate(-90 452.5 207.2)" >Selectivity</text>
<rect x="321.4" y="147.9" width="7.4" height="4.8" fill="#b7d3ea" stroke="#3d78b8" stroke-width="1" />
<text x="331.9" y="152.6" font-size="6.4" font-weight="bold" fill="#3d6fb6" text-anchor="start" >Cl<tspan font-size="4.5" dy="-2.8">−</tspan></text>
<rect x="342.5" y="147.9" width="7.8" height="4.8" fill="#f1dfe6" stroke="#d9a2b7" stroke-width="1" />
<text x="353.8" y="152.6" font-size="6.4" font-weight="bold" fill="#dba6bb" text-anchor="start" >SO<tspan font-size="4.5" dy="1.2">4</tspan><tspan font-size="4.5" dy="-4.2">2−</tspan></text>
<line x1="373.1" y1="149.6" x2="386.7" y2="149.6" stroke="#f0b27a" stroke-width="0.8" stroke-dasharray="1,1" />
<circle cx="380.3" cy="149.6" r="1.5" fill="#fff" stroke="#f0b27a" stroke-width="0.8"/>
<text x="390.2" y="152" font-size="6.4" font-weight="bold" fill="#f0ad72" text-anchor="start" >Cl<tspan font-size="4.5" dy="-2.8">−</tspan><tspan dy="2.8">/SO</tspan><tspan font-size="4.5" dy="1.2">4</tspan><tspan font-size="4.5" dy="-4.2">2−</tspan></text>
<rect x="321.4" y="156.6" width="7.4" height="5.2" fill="#cfc3e6" stroke="#8462c4" stroke-width="1" />
<text x="331.9" y="161.8" font-size="6.4" font-weight="bold" fill="#7b55b8" text-anchor="start" >K<tspan font-size="4.5" dy="-2.8">+</tspan></text>
<rect x="342.5" y="156.6" width="7.8" height="5.2" fill="#fbf5d2" stroke="#f1dc7e" stroke-width="1" />
<text x="353.8" y="161.8" font-size="6.4" font-weight="bold" fill="#efd77c" text-anchor="start" >Mg<tspan font-size="4.5" dy="-2.8">2+</tspan></text>
<line x1="373.1" y1="159.2" x2="386.7" y2="159.2" stroke="#6e6e6e" stroke-width="0.8" stroke-dasharray="1,1" />
<circle cx="380.3" cy="159.2" r="1.5" fill="#fff" stroke="#6e6e6e" stroke-width="0.8"/>
<text x="390.2" y="161.6" font-size="6.4" font-weight="bold" fill="#777" text-anchor="start" >K<tspan font-size="4.5" dy="-2.8">+</tspan><tspan dy="2.8">/Mg</tspan><tspan font-size="4.5" dy="-2.8">2+</tspan></text>
<polyline points="511.1,186.6 525,186.6 538.9,186.6 552.8,186.6 566.7,186.6 580.6,186.6 594.5,186.6 608.4,186.6 622.3,186.6 636.2,186.6" fill="none" stroke="#f0b27a" stroke-width="0.8" stroke-dasharray="0.9,1.1"/>
<circle cx="511.1" cy="186.6" r="1.7" fill="#fff" stroke="#f0b27a" stroke-width="0.8"/>
<circle cx="525" cy="186.6" r="1.7" fill="#fff" stroke="#f0b27a" stroke-width="0.8"/>
<circle cx="538.9" cy="186.6" r="1.7" fill="#fff" stroke="#f0b27a" stroke-width="0.8"/>
<circle cx="552.8" cy="186.6" r="1.7" fill="#fff" stroke="#f0b27a" stroke-width="0.8"/>
<circle cx="566.7" cy="186.6" r="1.7" fill="#fff" stroke="#f0b27a" stroke-width="0.8"/>
<circle cx="580.6" cy="186.6" r="1.7" fill="#fff" stroke="#f0b27a" stroke-width="0.8"/>
<circle cx="594.5" cy="186.6" r="1.7" fill="#fff" stroke="#f0b27a" stroke-width="0.8"/>
<circle cx="608.4" cy="186.6" r="1.7" fill="#fff" stroke="#f0b27a" stroke-width="0.8"/>
<circle cx="622.3" cy="186.6" r="1.7" fill="#fff" stroke="#f0b27a" stroke-width="0.8"/>
<circle cx="636.2" cy="186.6" r="1.7" fill="#fff" stroke="#f0b27a" stroke-width="0.8"/>
<polyline points="511.1,214.7 525,214.2 538.9,214.2 552.8,214.2 566.7,214.2 580.6,214.2 594.5,214.2 608.4,214.2 622.3,214.2 636.2,214.2" fill="none" stroke="#3d7fc0" stroke-width="1"/>
<circle cx="511.1" cy="214.7" r="1.7" fill="#fff" stroke="#3d7fc0" stroke-width="0.8"/>
<circle cx="525" cy="214.2" r="1.7" fill="#fff" stroke="#3d7fc0" stroke-width="0.8"/>
<circle cx="538.9" cy="214.2" r="1.7" fill="#fff" stroke="#3d7fc0" stroke-width="0.8"/>
<circle cx="552.8" cy="214.2" r="1.7" fill="#fff" stroke="#3d7fc0" stroke-width="0.8"/>
<circle cx="566.7" cy="214.2" r="1.7" fill="#fff" stroke="#3d7fc0" stroke-width="0.8"/>
<circle cx="580.6" cy="214.2" r="1.7" fill="#fff" stroke="#3d7fc0" stroke-width="0.8"/>
<circle cx="594.5" cy="214.2" r="1.7" fill="#fff" stroke="#3d7fc0" stroke-width="0.8"/>
<circle cx="608.4" cy="214.2" r="1.7" fill="#fff" stroke="#3d7fc0" stroke-width="0.8"/>
<circle cx="622.3" cy="214.2" r="1.7" fill="#fff" stroke="#3d7fc0" stroke-width="0.8"/>
<circle cx="636.2" cy="214.2" r="1.7" fill="#fff" stroke="#3d7fc0" stroke-width="0.8"/>
<polyline points="511.1,221.8 525,220.8 538.9,219.5 552.8,219.5 566.7,219.5 580.6,219.5 594.5,219.5 608.4,219.5 622.3,219.5 636.2,219.2" fill="none" stroke="#7b55b8" stroke-width="1"/>
<circle cx="511.1" cy="221.8" r="1.7" fill="#fff" stroke="#7b55b8" stroke-width="0.8"/>
<circle cx="525" cy="220.8" r="1.7" fill="#fff" stroke="#7b55b8" stroke-width="0.8"/>
<circle cx="538.9" cy="219.5" r="1.7" fill="#fff" stroke="#7b55b8" stroke-width="0.8"/>
<circle cx="552.8" cy="219.5" r="1.7" fill="#fff" stroke="#7b55b8" stroke-width="0.8"/>
<circle cx="566.7" cy="219.5" r="1.7" fill="#fff" stroke="#7b55b8" stroke-width="0.8"/>
<circle cx="580.6" cy="219.5" r="1.7" fill="#fff" stroke="#7b55b8" stroke-width="0.8"/>
<circle cx="594.5" cy="219.5" r="1.7" fill="#fff" stroke="#7b55b8" stroke-width="0.8"/>
<circle cx="608.4" cy="219.5" r="1.7" fill="#fff" stroke="#7b55b8" stroke-width="0.8"/>
<circle cx="622.3" cy="219.5" r="1.7" fill="#fff" stroke="#7b55b8" stroke-width="0.8"/>
<circle cx="636.2" cy="219.2" r="1.7" fill="#fff" stroke="#7b55b8" stroke-width="0.8"/>
<polyline points="511.1,246.1 525,246.1 538.9,246.1 552.8,246.1 566.7,246.1 580.6,246.1 594.5,246.1 608.4,246.1 622.3,246.1 636.2,246.1" fill="none" stroke="#777777" stroke-width="0.8" stroke-dasharray="0.9,1.1"/>
<circle cx="511.1" cy="246.1" r="1.7" fill="#fff" stroke="#777777" stroke-width="0.8"/>
<circle cx="525" cy="246.1" r="1.7" fill="#fff" stroke="#777777" stroke-width="0.8"/>
<circle cx="538.9" cy="246.1" r="1.7" fill="#fff" stroke="#777777" stroke-width="0.8"/>
<circle cx="552.8" cy="246.1" r="1.7" fill="#fff" stroke="#777777" stroke-width="0.8"/>
<circle cx="566.7" cy="246.1" r="1.7" fill="#fff" stroke="#777777" stroke-width="0.8"/>
<circle cx="580.6" cy="246.1" r="1.7" fill="#fff" stroke="#777777" stroke-width="0.8"/>
<circle cx="594.5" cy="246.1" r="1.7" fill="#fff" stroke="#777777" stroke-width="0.8"/>
<circle cx="608.4" cy="246.1" r="1.7" fill="#fff" stroke="#777777" stroke-width="0.8"/>
<circle cx="622.3" cy="246.1" r="1.7" fill="#fff" stroke="#777777" stroke-width="0.8"/>
<circle cx="636.2" cy="246.1" r="1.7" fill="#fff" stroke="#777777" stroke-width="0.8"/>
<polyline points="511.1,249.6 525,249.6 538.9,249.6 552.8,249.6 566.7,249.6 580.6,249.6 594.5,249.6 608.4,249.6 622.3,249.6 636.2,249.6" fill="none" stroke="#eed36a" stroke-width="1"/>
<circle cx="511.1" cy="249.6" r="1.7" fill="#fff" stroke="#eed36a" stroke-width="0.8"/>
<circle cx="525" cy="249.6" r="1.7" fill="#fff" stroke="#eed36a" stroke-width="0.8"/>
<circle cx="538.9" cy="249.6" r="1.7" fill="#fff" stroke="#eed36a" stroke-width="0.8"/>
<circle cx="552.8" cy="249.6" r="1.7" fill="#fff" stroke="#eed36a" stroke-width="0.8"/>
<circle cx="566.7" cy="249.6" r="1.7" fill="#fff" stroke="#eed36a" stroke-width="0.8"/>
<circle cx="580.6" cy="249.6" r="1.7" fill="#fff" stroke="#eed36a" stroke-width="0.8"/>
<circle cx="594.5" cy="249.6" r="1.7" fill="#fff" stroke="#eed36a" stroke-width="0.8"/>
<circle cx="608.4" cy="249.6" r="1.7" fill="#fff" stroke="#eed36a" stroke-width="0.8"/>
<circle cx="622.3" cy="249.6" r="1.7" fill="#fff" stroke="#eed36a" stroke-width="0.8"/>
<circle cx="636.2" cy="249.6" r="1.7" fill="#fff" stroke="#eed36a" stroke-width="0.8"/>
<polyline points="511.1,265.5 525,265.5 538.9,265.5 552.8,265.5 566.7,265.5 580.6,265.5 594.5,265.5 608.4,265.5 622.3,265.5 636.2,265.5" fill="none" stroke="#d9a2b7" stroke-width="1"/>
<circle cx="511.1" cy="265.5" r="1.7" fill="#fff" stroke="#d9a2b7" stroke-width="0.8"/>
<circle cx="525" cy="265.5" r="1.7" fill="#fff" stroke="#d9a2b7" stroke-width="0.8"/>
<circle cx="538.9" cy="265.5" r="1.7" fill="#fff" stroke="#d9a2b7" stroke-width="0.8"/>
<circle cx="552.8" cy="265.5" r="1.7" fill="#fff" stroke="#d9a2b7" stroke-width="0.8"/>
<circle cx="566.7" cy="265.5" r="1.7" fill="#fff" stroke="#d9a2b7" stroke-width="0.8"/>
<circle cx="580.6" cy="265.5" r="1.7" fill="#fff" stroke="#d9a2b7" stroke-width="0.8"/>
<circle cx="594.5" cy="265.5" r="1.7" fill="#fff" stroke="#d9a2b7" stroke-width="0.8"/>
<circle cx="608.4" cy="265.5" r="1.7" fill="#fff" stroke="#d9a2b7" stroke-width="0.8"/>
<circle cx="622.3" cy="265.5" r="1.7" fill="#fff" stroke="#d9a2b7" stroke-width="0.8"/>
<circle cx="636.2" cy="265.5" r="1.7" fill="#fff" stroke="#d9a2b7" stroke-width="0.8"/>
<polyline points="511,212.4 511,207.4 506.8,207.4" fill="none" stroke="#000" stroke-width="1.1"/>
<polygon points="502.6,207.4 507.8,205.3 507.8,209.5" fill="#000"/>
<polyline points="636.25,183.5 636.25,178.75 639.8,178.75" fill="none" stroke="#000" stroke-width="1.1"/>
<polygon points="644,178.75 638.8,176.65 638.8,180.85" fill="#000"/>
<rect x="496.4" y="143.4" width="154.5" height="1" fill="#111" stroke="none" stroke-width="1" />
<line x1="496.9" y1="143.9" x2="496.9" y2="267.3" stroke="#111" stroke-width="1" />
<line x1="650.4" y1="143.9" x2="650.4" y2="267.3" stroke="#111" stroke-width="1" />
<line x1="494.9" y1="267.3" x2="650.9" y2="267.3" stroke="#111" stroke-width="1" />
<line x1="494.5" y1="154.8" x2="496.9" y2="154.8" stroke="#111" stroke-width="0.9" />
<line x1="494.5" y1="174.7" x2="496.9" y2="174.7" stroke="#111" stroke-width="0.9" />
<line x1="494.5" y1="194.4" x2="496.9" y2="194.4" stroke="#111" stroke-width="0.9" />
<line x1="494.5" y1="214.4" x2="496.9" y2="214.4" stroke="#111" stroke-width="0.9" />
<line x1="494.5" y1="246.5" x2="496.9" y2="246.5" stroke="#111" stroke-width="0.9" />
<line x1="495.5" y1="164.7" x2="496.9" y2="164.7" stroke="#111" stroke-width="0.9" />
<line x1="495.5" y1="184.5" x2="496.9" y2="184.5" stroke="#111" stroke-width="0.9" />
<line x1="495.5" y1="204.4" x2="496.9" y2="204.4" stroke="#111" stroke-width="0.9" />
<line x1="495.5" y1="224.3" x2="496.9" y2="224.3" stroke="#111" stroke-width="0.9" />
<line x1="495.5" y1="256.9" x2="496.9" y2="256.9" stroke="#111" stroke-width="0.9" />
<rect x="495.9" y="234.2" width="2" height="1.6" fill="#fff" stroke="none" stroke-width="1" />
<line x1="494.4" y1="234.9" x2="499.4" y2="233.1" stroke="#111" stroke-width="0.9" />
<line x1="494.4" y1="236.9" x2="499.4" y2="235.1" stroke="#111" stroke-width="0.9" />
<text x="492.9" y="158.35" font-size="10.3" font-weight="normal" fill="#111" text-anchor="end" >0.84</text>
<text x="492.9" y="178.25" font-size="10.3" font-weight="normal" fill="#111" text-anchor="end" >0.82</text>
<text x="492.9" y="197.95" font-size="10.3" font-weight="normal" fill="#111" text-anchor="end" >0.80</text>
<text x="492.9" y="217.95" font-size="10.3" font-weight="normal" fill="#111" text-anchor="end" >0.78</text>
<text x="492.9" y="250.05" font-size="10.3" font-weight="normal" fill="#111" text-anchor="end" >0.02</text>
<text x="492.9" y="270.85" font-size="10.3" font-weight="normal" fill="#111" text-anchor="end" >0.00</text>
<line x1="650.4" y1="158.9" x2="652.8" y2="158.9" stroke="#111" stroke-width="0.9" />
<line x1="650.4" y1="177.58" x2="652.8" y2="177.58" stroke="#111" stroke-width="0.9" />
<line x1="650.4" y1="196.26" x2="652.8" y2="196.26" stroke="#111" stroke-width="0.9" />
<line x1="650.4" y1="214.94" x2="652.8" y2="214.94" stroke="#111" stroke-width="0.9" />
<line x1="650.4" y1="233.62" x2="652.8" y2="233.62" stroke="#111" stroke-width="0.9" />
<line x1="650.4" y1="252.3" x2="652.8" y2="252.3" stroke="#111" stroke-width="0.9" />
<line x1="650.4" y1="149.6" x2="651.8" y2="149.6" stroke="#111" stroke-width="0.9" />
<line x1="650.4" y1="168.24" x2="651.8" y2="168.24" stroke="#111" stroke-width="0.9" />
<line x1="650.4" y1="186.92" x2="651.8" y2="186.92" stroke="#111" stroke-width="0.9" />
<line x1="650.4" y1="205.6" x2="651.8" y2="205.6" stroke="#111" stroke-width="0.9" />
<line x1="650.4" y1="224.28" x2="651.8" y2="224.28" stroke="#111" stroke-width="0.9" />
<line x1="650.4" y1="242.96" x2="651.8" y2="242.96" stroke="#111" stroke-width="0.9" />
<text x="654.6" y="162.45" font-size="10.3" font-weight="normal" fill="#111" text-anchor="start" >200</text>
<text x="654.6" y="181.13" font-size="10.3" font-weight="normal" fill="#111" text-anchor="start" >160</text>
<text x="654.6" y="199.81" font-size="10.3" font-weight="normal" fill="#111" text-anchor="start" >120</text>
<text x="654.6" y="218.49" font-size="10.3" font-weight="normal" fill="#111" text-anchor="start" >80</text>
<text x="654.6" y="237.17" font-size="10.3" font-weight="normal" fill="#111" text-anchor="start" >40</text>
<text x="654.6" y="255.85" font-size="10.3" font-weight="normal" fill="#111" text-anchor="start" >0</text>
<text x="502.7" y="159.1" font-size="16" font-weight="bold" fill="#000" text-anchor="start" >f</text>
<text x="511.1" y="274.6" font-size="6.8" font-weight="bold" fill="#111" text-anchor="middle" >1</text>
<text x="525" y="274.6" font-size="6.8" font-weight="bold" fill="#111" text-anchor="middle" >2</text>
<text x="538.9" y="274.6" font-size="6.8" font-weight="bold" fill="#111" text-anchor="middle" >3</text>
<text x="552.8" y="274.6" font-size="6.8" font-weight="bold" fill="#111" text-anchor="middle" >4</text>
<text x="566.7" y="274.6" font-size="6.8" font-weight="bold" fill="#111" text-anchor="middle" >5</text>
<text x="580.6" y="274.6" font-size="6.8" font-weight="bold" fill="#111" text-anchor="middle" >6</text>
<text x="594.5" y="274.6" font-size="6.8" font-weight="bold" fill="#111" text-anchor="middle" >7</text>
<text x="608.4" y="274.6" font-size="6.8" font-weight="bold" fill="#111" text-anchor="middle" >8</text>
<text x="622.3" y="274.6" font-size="6.8" font-weight="bold" fill="#111" text-anchor="middle" >9</text>
<text x="636.2" y="274.6" font-size="6.8" font-weight="bold" fill="#111" text-anchor="middle" >10</text>
<text x="530.6" y="285.6" font-size="10.5" font-weight="normal" fill="#1a1a1a" text-anchor="start" >Operation number</text>
<text x="468" y="204.8" font-size="10.3" font-weight="normal" fill="#1a1a1a" text-anchor="middle" transform="rotate(-90 468 204.8)" >Ion flux (mol m<tspan baseline-shift="super" font-size="7.2">−2</tspan> h<tspan baseline-shift="super" font-size="7.2">−1</tspan>)</text>
<text x="682.8" y="206.7" font-size="10.5" font-weight="normal" fill="#1a1a1a" text-anchor="middle" transform="rotate(-90 682.8 206.7)" >Selectivity</text>
<line x1="553.1" y1="151.8" x2="564.9" y2="151.8" stroke="#3d7fc0" stroke-width="1.3" />
<circle cx="558.8" cy="151.8" r="1.7" fill="#fff" stroke="#3d7fc0" stroke-width="1"/>
<text x="566.9" y="154" font-size="6.1" font-weight="bold" fill="#3d7fc0" text-anchor="start" >Cl<tspan font-size="4.5" dy="-2.8">−</tspan></text>
<line x1="577.6" y1="151.8" x2="589.4" y2="151.8" stroke="#d9a2b7" stroke-width="1.3" />
<circle cx="583.7" cy="151.8" r="1.7" fill="#fff" stroke="#d9a2b7" stroke-width="1"/>
<text x="591.4" y="154" font-size="6.1" font-weight="bold" fill="#e0a0c8" text-anchor="start" >SO<tspan font-size="4.5" dy="1.2">4</tspan><tspan font-size="4.5" dy="-4.2">2−</tspan></text>
<line x1="607.4" y1="151.8" x2="619.3" y2="151.8" stroke="#f0b27a" stroke-width="1" stroke-dasharray="1,1" />
<circle cx="613.8" cy="151.8" r="1.7" fill="#fff" stroke="#f0b27a" stroke-width="1"/>
<text x="622.8" y="154" font-size="6.1" font-weight="normal" fill="#f0b07a" text-anchor="start" stroke="#f0b07a" stroke-width="0.25">Cl<tspan font-size="4.5" dy="-2.8">−</tspan><tspan dy="2.8">/SO</tspan><tspan font-size="4.5" dy="1.2">4</tspan><tspan font-size="4.5" dy="-4.2">2−</tspan></text>
<line x1="553.1" y1="163.6" x2="564.9" y2="163.6" stroke="#7b55b8" stroke-width="1.3" />
<circle cx="558.8" cy="163.6" r="1.7" fill="#fff" stroke="#7b55b8" stroke-width="1"/>
<text x="566.9" y="165.8" font-size="6.1" font-weight="bold" fill="#7b55b8" text-anchor="start" >K<tspan font-size="4.5" dy="-2.8">+</tspan></text>
<line x1="577.6" y1="163.6" x2="589.4" y2="163.6" stroke="#eed36a" stroke-width="1.3" />
<circle cx="583.7" cy="163.6" r="1.7" fill="#fff" stroke="#eed36a" stroke-width="1"/>
<text x="591.4" y="165.8" font-size="6.1" font-weight="bold" fill="#efd77c" text-anchor="start" >Mg<tspan font-size="4.5" dy="-2.8">2+</tspan></text>
<line x1="607.4" y1="163.6" x2="619.3" y2="163.6" stroke="#777777" stroke-width="1" stroke-dasharray="1,1" />
<circle cx="613.8" cy="163.6" r="1.7" fill="#fff" stroke="#777777" stroke-width="1"/>
<text x="622.8" y="165.8" font-size="6.1" font-weight="normal" fill="#555" text-anchor="start" stroke="#555" stroke-width="0.25">K<tspan font-size="4.5" dy="-2.8">+</tspan><tspan dy="2.8">/Mg</tspan><tspan font-size="4.5" dy="-2.8">2+</tspan></text>
</svg>
</body></html>
